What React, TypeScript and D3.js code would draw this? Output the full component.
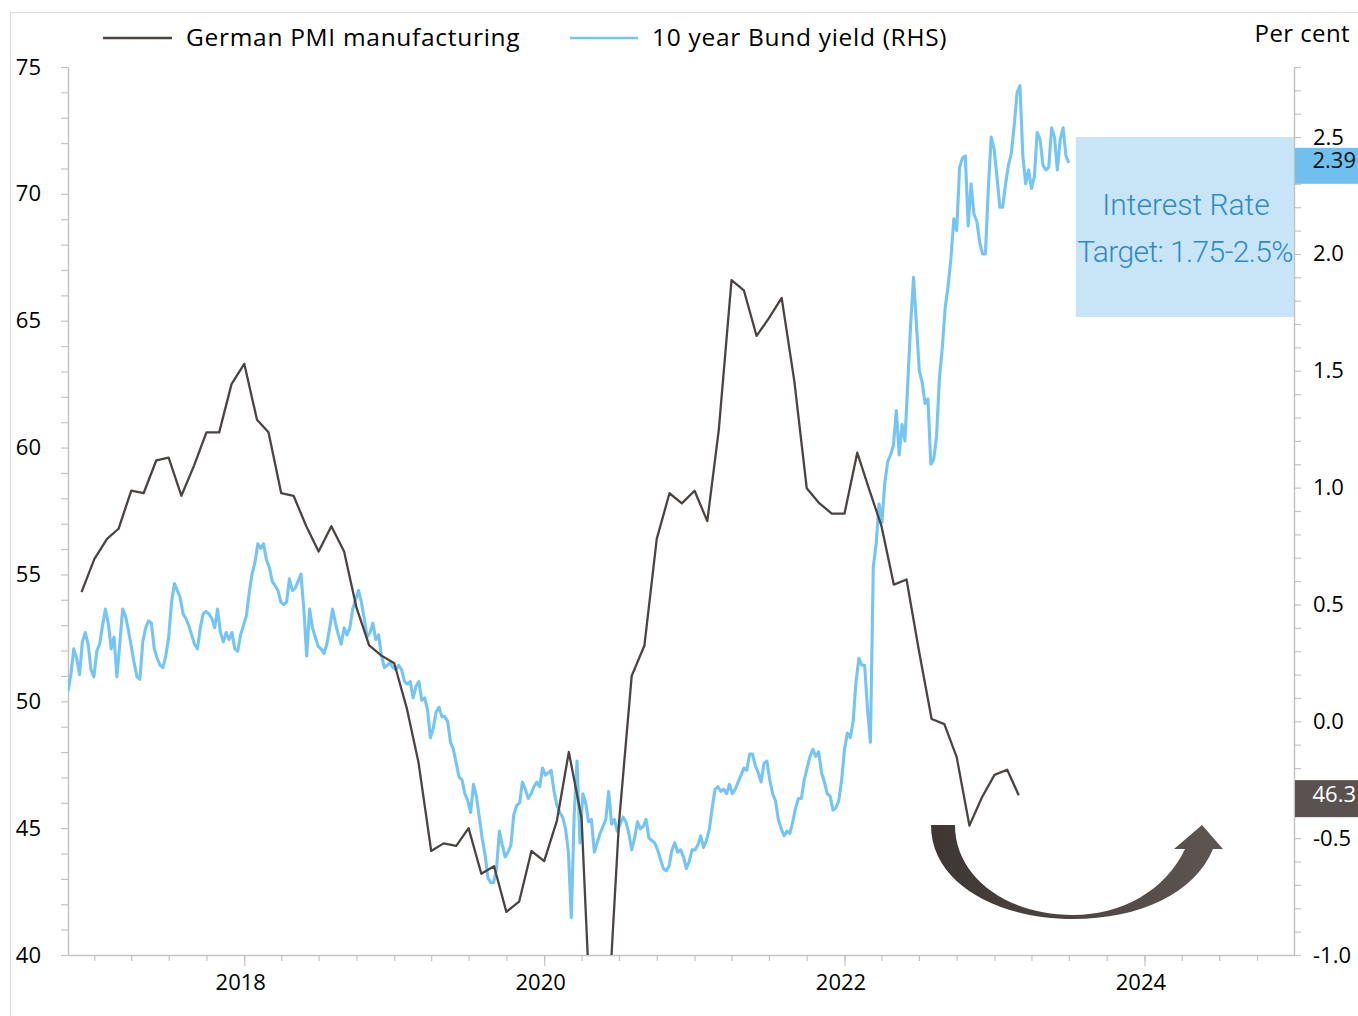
import { useEffect, useRef } from "react";
import * as d3 from "d3";

// German manufacturing PMI, monthly from Nov 2016
const pmiStart = "2016-11-01";
const pmiValues = [
  54.3, 55.6,
  56.4, 56.8, 58.3, 58.2, 59.5, 59.6, 58.1, 59.3, 60.6, 60.6, 62.5, 63.3,
  61.1, 60.6, 58.2, 58.1, 56.9, 55.9, 56.9, 55.9, 53.7, 52.2, 51.8, 51.5,
  49.7, 47.6, 44.1, 44.4, 44.3, 45.0, 43.2, 43.5, 41.7, 42.1, 44.1, 43.7,
  45.3, 48.0, 45.4, 34.5, 36.6, 45.2, 51.0, 52.2, 56.4, 58.2, 57.8, 58.3,
  57.1, 60.7, 66.6, 66.2, 64.4, 65.1, 65.9, 62.6, 58.4, 57.8, 57.4, 57.4,
  59.8, 58.4, 56.9, 54.6, 54.8, 52.0, 49.3, 49.1, 47.8, 45.1, 46.2, 47.1,
  47.3, 46.3,
];

// 10 year Bund yield, weekly from end Oct 2016
const bundStart = "2016-10-29";
const bundValues = [
  0.13, 0.20, 0.31, 0.27, 0.20, 0.34, 0.38, 0.33, 0.22, 0.19,
  0.30, 0.33, 0.41, 0.48, 0.42, 0.31, 0.36, 0.19, 0.33, 0.48,
  0.45, 0.39, 0.32, 0.25, 0.19, 0.18, 0.34, 0.40, 0.43, 0.42,
  0.31, 0.27, 0.24, 0.23, 0.28, 0.36, 0.51, 0.59, 0.56, 0.53,
  0.46, 0.44, 0.41, 0.37, 0.33, 0.31, 0.40, 0.46, 0.47, 0.46,
  0.44, 0.40, 0.48, 0.38, 0.34, 0.38, 0.35, 0.38, 0.31, 0.30,
  0.37, 0.41, 0.45, 0.55, 0.63, 0.68, 0.76, 0.74, 0.76, 0.69,
  0.66, 0.60, 0.58, 0.56, 0.51, 0.50, 0.51, 0.61, 0.56, 0.57,
  0.60, 0.63, 0.48, 0.28, 0.48, 0.40, 0.36, 0.32, 0.31, 0.29,
  0.33, 0.40, 0.48, 0.42, 0.37, 0.33, 0.40, 0.37, 0.40, 0.48,
  0.52, 0.56, 0.51, 0.44, 0.36, 0.38, 0.42, 0.35, 0.37, 0.28,
  0.23, 0.24, 0.25, 0.23, 0.22, 0.24, 0.22, 0.17, 0.16, 0.17,
  0.10, 0.15, 0.17, 0.09, 0.10, 0.05, -0.07, -0.03, 0.04, 0.06,
  0.02, 0.02, 0.00, -0.09, -0.12, -0.18, -0.24, -0.25, -0.31, -0.34,
  -0.39, -0.27, -0.32, -0.41, -0.50, -0.57, -0.67, -0.69, -0.69, -0.63,
  -0.47, -0.53, -0.58, -0.56, -0.53, -0.40, -0.36, -0.35, -0.26, -0.29,
  -0.33, -0.31, -0.28, -0.26, -0.28, -0.20, -0.23, -0.22, -0.21, -0.30,
  -0.36, -0.39, -0.41, -0.46, -0.56, -0.84, -0.40, -0.17, -0.52, -0.31,
  -0.35, -0.43, -0.42, -0.56, -0.52, -0.48, -0.45, -0.42, -0.30, -0.44,
  -0.42, -0.47, -0.44, -0.41, -0.43, -0.48, -0.55, -0.50, -0.43, -0.46,
  -0.45, -0.42, -0.50, -0.51, -0.52, -0.55, -0.59, -0.63, -0.64, -0.62,
  -0.55, -0.52, -0.56, -0.55, -0.58, -0.63, -0.60, -0.55, -0.55, -0.53,
  -0.49, -0.54, -0.51, -0.46, -0.37, -0.29, -0.28, -0.30, -0.29, -0.31,
  -0.27, -0.31, -0.29, -0.26, -0.23, -0.20, -0.21, -0.14, -0.14, -0.19,
  -0.22, -0.26, -0.18, -0.17, -0.25, -0.31, -0.34, -0.42, -0.46, -0.49,
  -0.47, -0.48, -0.43, -0.37, -0.33, -0.33, -0.25, -0.20, -0.15, -0.12,
  -0.15, -0.13, -0.22, -0.26, -0.31, -0.32, -0.38, -0.37, -0.34, -0.25,
  -0.12, -0.05, -0.07, 0.00, 0.17, 0.27, 0.24, 0.24, 0.05, -0.09,
  0.66, 0.76, 0.93, 0.85, 1.02, 1.11, 1.14, 1.18, 1.33, 1.14,
  1.27, 1.20, 1.45, 1.70, 1.90, 1.70, 1.50, 1.45, 1.36, 1.38,
  1.10, 1.12, 1.22, 1.47, 1.60, 1.77, 1.86, 1.98, 2.15, 2.10,
  2.37, 2.41, 2.42, 2.12, 2.30, 2.17, 2.14, 2.05, 2.00, 2.00,
  2.28, 2.50, 2.45, 2.33, 2.20, 2.20, 2.30, 2.38, 2.43, 2.55,
  2.69, 2.72, 2.42, 2.30, 2.36, 2.28, 2.33, 2.52, 2.49, 2.38,
  2.36, 2.37, 2.54, 2.50, 2.36, 2.49, 2.54, 2.42, 2.39,
];

const bundLast = 2.39;
const pmiLast = 46.3;
// shaded box as drawn on the chart (right-axis units)
const targetBox = [1.73, 2.5];
const targetFrom = "2023-07-18";
const yearLabels = [2018, 2020, 2022, 2024];

const FONT = "'Open Sans', 'Noto Sans', sans-serif";
const PMI_COLOR = "#4b4442";
const BUND_COLOR = "#74c5f3";
const AXIS_COLOR = "#c4c4c4";

export default function App() {
  const svgRef = useRef(null);

  useEffect(() => {
    const width = 1358;
    const height = 1016;
    const plot = { left: 68, right: 1294, top: 67, bottom: 955 };

    const svg = d3.select(svgRef.current);
    svg.selectAll("*").remove();
    svg.attr("width", width).attr("height", height).style("font-family", FONT);

    svg.append("rect")
      .attr("width", width).attr("height", height).attr("fill", "#fff");

    // outer frame
    svg.append("rect")
      .attr("x", 10.5).attr("y", 12.5)
      .attr("width", width + 20).attr("height", height + 20)
      .attr("fill", "none").attr("stroke", "#d9d9d9");

    const parse = d3.timeParse("%Y-%m-%d");
    const x = d3.scaleTime()
      .domain([new Date(2016, 9, 29), new Date(2024, 11, 30)])
      .range([plot.left, plot.right]);
    const yL = d3.scaleLinear().domain([40, 75]).range([plot.bottom, plot.top]);
    const yR = d3.scaleLinear().domain([-1, 2.8]).range([plot.bottom, plot.top]);

    const pmiData = pmiValues.map((v, i) => ({
      // monthly reading plotted at month end
      date: d3.timeMonth.offset(parse(pmiStart), i + 1),
      value: v,
    }));
    const bundData = bundValues.map((v, i) => ({
      date: d3.timeDay.offset(parse(bundStart), i * 7),
      value: v,
    }));

    svg.append("clipPath").attr("id", "plot-clip")
      .append("rect")
      .attr("x", plot.left).attr("y", plot.top)
      .attr("width", plot.right - plot.left)
      .attr("height", plot.bottom - plot.top);

    // interest rate target box
    const bandX = x(parse(targetFrom));
    svg.append("rect")
      .attr("x", bandX).attr("y", yR(targetBox[1]))
      .attr("width", plot.right - bandX)
      .attr("height", yR(targetBox[0]) - yR(targetBox[1]))
      .attr("fill", "#c7e5f7");

    // axes
    const styleAxis = (g) => {
      g.select(".domain").attr("stroke", AXIS_COLOR).attr("stroke-width", 1.5);
      g.selectAll(".tick line").attr("stroke", AXIS_COLOR).attr("stroke-width", 1.2);
      g.selectAll(".tick text")
        .attr("fill", "#000")
        .style("font-family", FONT)
        .style("font-size", "22px");
    };

    svg.append("g")
      .attr("transform", `translate(${plot.left},0)`)
      .call(
        d3.axisLeft(yL)
          .tickValues(d3.range(40, 76, 1))
          .tickSize(7).tickSizeOuter(0).tickPadding(20)
          .tickFormat((d) => (d % 5 === 0 ? String(d) : ""))
      )
      .call(styleAxis);

    const fmtR = (d) => {
      const s = d.toFixed(1);
      return s === "-0.0" ? "0.0" : s;
    };
    svg.append("g")
      .attr("transform", `translate(${plot.right},0)`)
      .call(
        d3.axisRight(yR)
          .tickValues(d3.range(-10, 29).map((k) => k / 10))
          .tickSize(7).tickSizeOuter(0).tickPadding(12)
          .tickFormat((d) => (Math.round(d * 10) % 5 === 0 ? fmtR(d) : ""))
      )
      .call(styleAxis);

    svg.append("g")
      .attr("transform", `translate(0,${plot.bottom})`)
      .call(
        d3.axisBottom(x)
          .tickValues(d3.timeMonth.every(3).range(new Date(2017, 0, 1), new Date(2025, 0, 1)))
          .tickSize(6).tickSizeOuter(0).tickFormat(() => "")
      )
      .call(styleAxis);

    svg.append("g")
      .attr("transform", `translate(0,${plot.bottom})`)
      .call(
        d3.axisBottom(x)
          .tickValues(yearLabels.map((y) => new Date(y, 0, 1)))
          .tickSize(11).tickSizeOuter(0).tickPadding(8)
          .tickFormat(d3.timeFormat("%Y"))
      )
      .call(styleAxis)
      .call((g) => g.select(".domain").remove())
      .call((g) => g.selectAll(".tick text").attr("dx", -4));

    // lines
    const lineL = d3.line().x((d) => x(d.date)).y((d) => yL(d.value));
    const lineR = d3.line().x((d) => x(d.date)).y((d) => yR(d.value));

    svg.append("path")
      .datum(bundData)
      .attr("clip-path", "url(#plot-clip)")
      .attr("fill", "none")
      .attr("stroke", BUND_COLOR)
      .attr("stroke-width", 3.1)
      .attr("stroke-linejoin", "round")
      .attr("d", lineR);

    svg.append("path")
      .datum(pmiData)
      .attr("clip-path", "url(#plot-clip)")
      .attr("fill", "none")
      .attr("stroke", PMI_COLOR)
      .attr("stroke-width", 2.3)
      .attr("stroke-linejoin", "round")
      .attr("d", lineL);

    // box text
    svg.append("text")
      .attr("x", 1186).attr("y", 215)
      .attr("text-anchor", "middle")
      .attr("fill", "#3189c6")
      .style("font-family", "Roboto, sans-serif")
      .style("font-weight", 300)
      .style("font-size", "30px")
      .text("Interest Rate");
    svg.append("text")
      .attr("x", 1185).attr("y", 262)
      .attr("text-anchor", "middle")
      .attr("fill", "#3189c6")
      .style("font-family", "Roboto, sans-serif")
      .style("font-weight", 300)
      .style("font-size", "30px")
      .style("letter-spacing", "-0.6px")
      .text("Target: 1.75-2.5%");

    // last value tags
    svg.append("rect")
      .attr("x", plot.right + 1).attr("y", yR(bundLast) - 15)
      .attr("width", width - plot.right).attr("height", 36)
      .attr("fill", "#6fc0ef");
    svg.append("text")
      .attr("x", 1356).attr("y", yR(bundLast) + 5)
      .attr("text-anchor", "end")
      .attr("fill", "#111")
      .style("font-size", "22px")
      .text(bundLast.toFixed(2));

    svg.append("rect")
      .attr("x", plot.right + 1).attr("y", yL(pmiLast) - 15)
      .attr("width", width - plot.right).attr("height", 37)
      .attr("fill", "#595250");
    svg.append("text")
      .attr("x", 1356).attr("y", yL(pmiLast) + 7)
      .attr("text-anchor", "end")
      .attr("fill", "#fff")
      .style("font-size", "22px")
      .text(pmiLast.toFixed(1));

    // curved arrow
    const grad = svg.append("defs").append("linearGradient")
      .attr("id", "arrow-grad").attr("x1", "0").attr("x2", "1").attr("y1", "0").attr("y2", "0");
    grad.append("stop").attr("offset", "0").attr("stop-color", "#3d3634");
    grad.append("stop").attr("offset", "1").attr("stop-color", "#5e5653");

    svg.append("path")
      .attr("fill", "url(#arrow-grad)")
      .attr("d",
        "M931,825 C931,885 1000,919 1073,919 C1140,919 1195,893 1213,849 " +
        "L1223,849 L1202,825 L1174,849 L1185,849 " +
        "C1166,890 1122,915 1073,915 C1008,915 955,878 955,825 Z");

    // legend
    const legend = svg.append("g").style("font-size", "24.5px").style("letter-spacing", "0.7px");
    legend.append("line")
      .attr("x1", 103).attr("x2", 172).attr("y1", 38).attr("y2", 38)
      .attr("stroke", PMI_COLOR).attr("stroke-width", 2.5);
    legend.append("text")
      .attr("x", 186).attr("y", 46)
      .attr("fill", "#000")
      .text("German PMI manufacturing");
    legend.append("line")
      .attr("x1", 570).attr("x2", 638).attr("y1", 38).attr("y2", 38)
      .attr("stroke", BUND_COLOR).attr("stroke-width", 2.5);
    legend.append("text")
      .attr("x", 652).attr("y", 46)
      .attr("fill", "#000")
      .text("10 year Bund yield (RHS)");

    svg.append("text")
      .attr("x", 1350).attr("y", 42)
      .attr("text-anchor", "end")
      .attr("fill", "#000")
      .style("font-size", "24px")
      .style("letter-spacing", "0.4px")
      .text("Per cent");
  }, []);

  return (
    <svg ref={svgRef} style={{ position: "absolute", left: 0, top: 0 }}></svg>
  );
}
